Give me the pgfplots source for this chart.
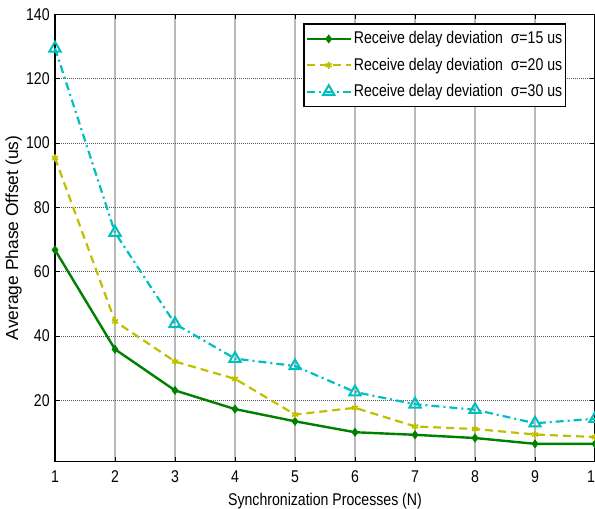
\documentclass[border=0pt]{standalone}
\usepackage{fontspec}
\setmainfont{Liberation Sans}[FakeStretch=0.83]
\newfontfamily\ylfont{Liberation Sans}
\usepackage{pgfplots}
\pgfplotsset{compat=1.18}
\definecolor{mgreen}{RGB}{0,128,0}
\definecolor{myellow}{RGB}{191,191,0}
\definecolor{mcyan}{RGB}{0,191,191}
\begin{document}
\fontsize{17}{20}\selectfont
\begin{tikzpicture}[font=\fontsize{17}{20}\selectfont]
\begin{axis}[
  width=540pt, height=447pt, scale only axis,
  xmin=1, xmax=10, ymin=1, ymax=140,
  xtick={1,2,...,10}, ytick={20,40,...,140},
  /pgf/number format/assume math mode=true,
  clip=false,
  grid=major,
  major x grid style={gray!55, line width=1.1pt},
  major y grid style={black!65, line width=1.1pt, dash pattern=on 1pt off 1pt},
  axis line style={black, line width=1.4pt},
  tick align=inside, major tick length=5pt,
  tick style={black, line width=1pt},
  xticklabel style={yshift=-3pt},
  yticklabel style={xshift=0.5pt},
  xlabel={Synchronization Processes (N)},
  ylabel={\ylfont\fontsize{17.4}{20}\selectfont Average Phase Offset (us)},
  xlabel style={at={(axis description cs:0.5,0)}, anchor=base, yshift=-44.2pt},
  ylabel style={at={(axis description cs:-0.0765,0.5)}, anchor=center},
  legend cell align=left,
  legend style={at={(axis description cs:0.9472,0.9803)}, anchor=north east,
    draw=black, line width=1.4pt, inner xsep=1.5pt, inner ysep=5.5pt, row sep=7.5pt,
    font=\fontsize{17}{20}\selectfont},
  legend image code/.code={\draw[mark repeat=2,mark phase=2,#1] plot coordinates {(0pt,0pt) (22pt,0pt) (44pt,0pt)};},
]
\addplot[color=mgreen, line width=2.4pt, mark=diamond*, mark size=3.8pt,
  mark options={solid, fill=mgreen, line width=1pt}]
  coordinates {(1,66.8) (2,35.9) (3,23.1) (4,17.3) (5,13.5) (6,10.1) (7,9.3) (8,8.3) (9,6.5) (10,6.5)};
\addlegendentry{Receive delay deviation\ \ σ=15 us}
\addplot[color=myellow, line width=2.2pt, dash pattern=on 8pt off 5pt, mark=asterisk, mark size=3.5pt,
  mark options={solid, line width=1.6pt}]
  coordinates {(1,95.4) (2,44.6) (3,32.1) (4,26.7) (5,15.6) (6,17.7) (7,11.9) (8,11.1) (9,9.4) (10,8.6)};
\addlegendentry{Receive delay deviation\ \ σ=20 us}
\addplot[color=mcyan, line width=2.2pt, dash pattern=on 8pt off 4pt on 2pt off 4pt, mark=triangle, mark size=6.5pt,
  mark options={solid, line width=2pt}]
  coordinates {(1,129.5) (2,72.2) (3,43.8) (4,33.0) (5,30.7) (6,22.6) (7,18.8) (8,17.1) (9,12.9) (10,14.3)};
\addlegendentry{Receive delay deviation\ \ σ=30 us}
\end{axis}
\pgfresetboundingbox
\useasboundingbox ([shift={(-55pt,-46.5pt)}]current axis.south west) rectangle ([shift={(0pt,14.5pt)}]current axis.north east);
\end{tikzpicture}
\end{document}
